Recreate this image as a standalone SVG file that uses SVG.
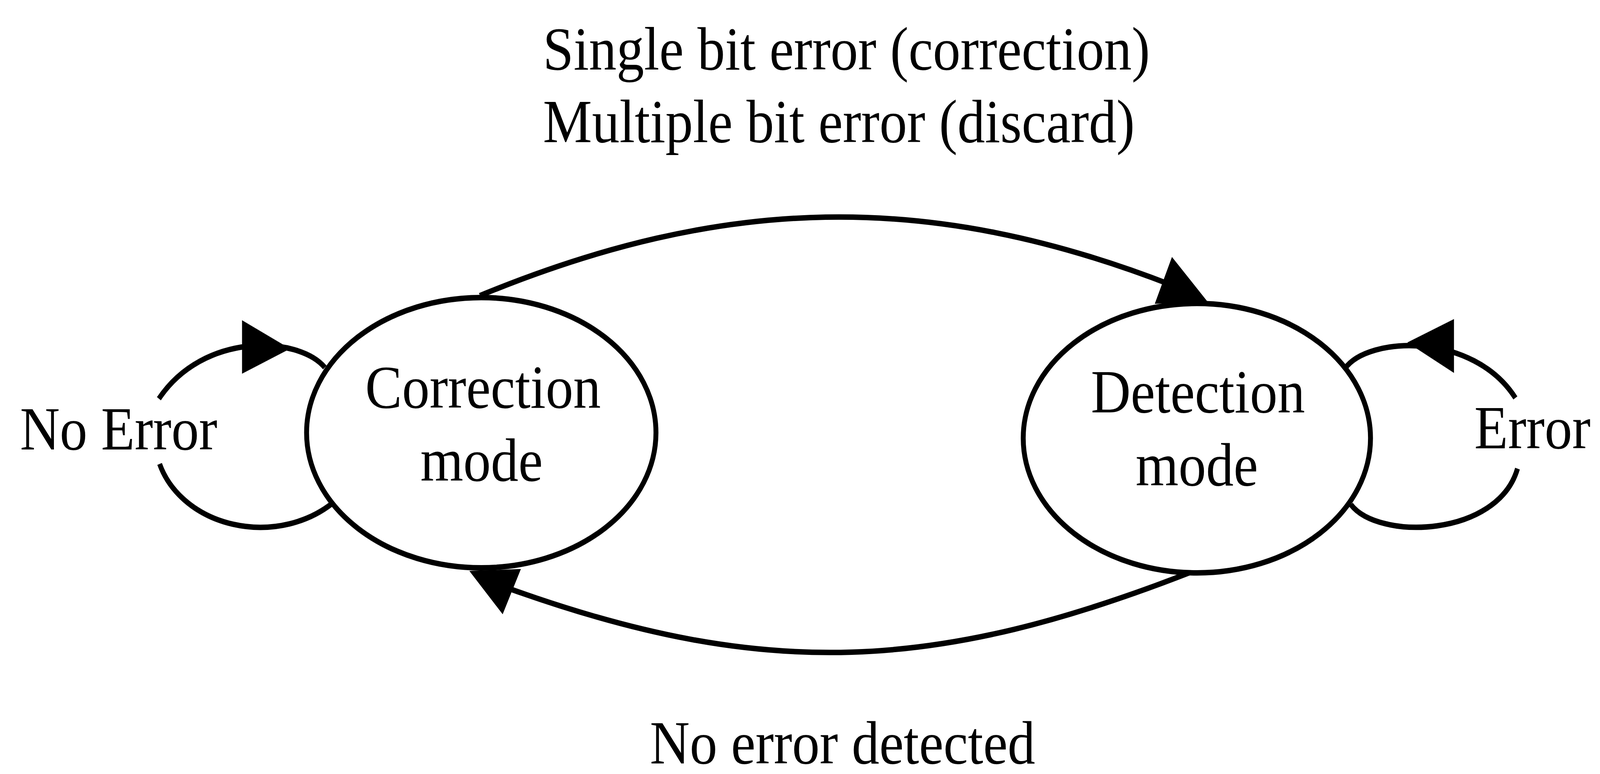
<svg xmlns="http://www.w3.org/2000/svg" width="4553" height="1982" viewBox="0 0 4553 1982">
<style>
.ln{fill:none;stroke:#000;stroke-width:14;stroke-linecap:butt}
.nd{fill:#fff;stroke:#000;stroke-width:14}
.ah{fill:#000;stroke:none}
text{font-family:"Liberation Serif","Times New Roman",serif;font-size:157px;fill:#000}
.c{text-anchor:middle}
</style>
<rect width="4553" height="1982" fill="#fff"/>
<g transform="scale(0.898 1)">
<g id="connectors">
<path class="ln" d="M1368 757 C2063 500 2645 487 3340 730"/>
<path class="ln" d="M3398 1464 C2670 1720 2185 1742 1460 1510"/>
<path class="ln" d="M926 941 C850 860 580 850 453 1021"/>
<path class="ln" d="M455 1188 A300 228 0 0 0 947 1289"/>
<path class="ln" d="M3834 944 C3900 860 4200 850 4320 1019"/>
<path class="ln" d="M4326 1200 C4270 1375 3930 1385 3851 1292"/>
<polygon class="ah" points="3341,658 3292,778 3442,772"/>
<polygon class="ah" points="1338,1462 1485,1457 1433,1573"/>
<polygon class="ah" points="690,820 690,957 827,893"/>
<polygon class="ah" points="4145,817 4145,955 4012,877"/>
<polygon class="ah" points="3416,1460 3433,1447 3447,1463"/>
</g>
<g id="correction">
<ellipse class="nd" cx="1372" cy="1108" rx="498" ry="346"/>
<text class="c" x="1377" y="1044">Correction</text>
<text class="c" x="1373" y="1231">mode</text>
</g>
<g id="detection">
<ellipse class="nd" cx="3412" cy="1122" rx="495" ry="345"/>
<text class="c" x="3415" y="1056">Detection</text>
<text class="c" x="3412" y="1243">mode</text>
</g>
<g id="labels">
<text x="1548" y="178">Single bit error (correction)</text>
<text x="1548" y="364">Multiple bit error (discard)</text>
<text x="57" y="1151">No Error</text>
<text x="4203" y="1148">Error</text>
<text class="c" x="2402" y="1955">No error detected</text>
</g>
</g>
</svg>
